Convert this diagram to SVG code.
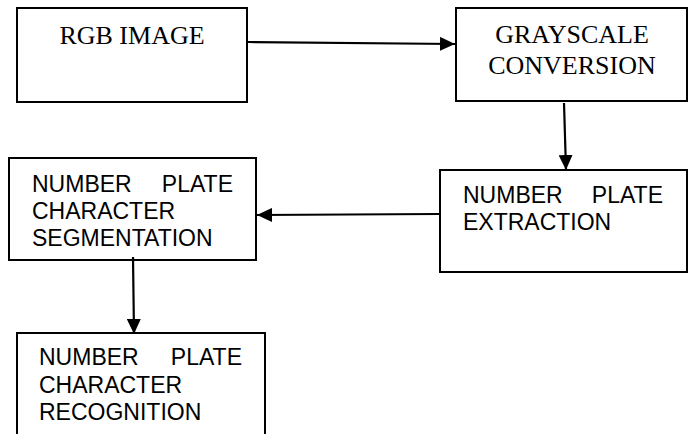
<svg xmlns="http://www.w3.org/2000/svg" width="692" height="434" viewBox="0 0 692 434">
<style>
.box{fill:#fff;stroke:#000;stroke-width:2}
.serif{font-family:"Liberation Serif","Times New Roman",serif;font-size:26px;fill:#000}
.sans{font-family:"Liberation Sans",Arial,sans-serif;font-size:23px;fill:#000}
.conn{stroke:#000;stroke-width:2.2;fill:none}
</style>
<defs>
<marker id="ah" markerUnits="userSpaceOnUse" markerWidth="16" markerHeight="14" refX="15" refY="7" orient="auto">
<path d="M0,0 L15,7 L0,14 Z" fill="#000"/>
</marker>
</defs>
<rect width="692" height="434" fill="#fff"/>
<g id="rgb">
<rect class="box" x="17" y="8" width="230" height="94"/>
<text class="serif" x="132" y="44" text-anchor="middle">RGB IMAGE</text>
</g>
<g id="gray">
<rect class="box" x="456" y="8" width="231" height="93"/>
<text class="serif" x="572" y="43" text-anchor="middle">GRAYSCALE</text>
<text class="serif" x="572" y="74" text-anchor="middle">CONVERSION</text>
</g>
<g id="extract">
<rect class="box" x="440" y="170" width="247" height="102"/>
<text class="sans" x="463" y="203">NUMBER</text>
<text class="sans" x="663" y="203" text-anchor="end">PLATE</text>
<text class="sans" x="463" y="230">EXTRACTION</text>
</g>
<g id="segment">
<rect class="box" x="9" y="158" width="247" height="102"/>
<text class="sans" x="32" y="192">NUMBER</text>
<text class="sans" x="233" y="192" text-anchor="end">PLATE</text>
<text class="sans" x="32" y="219">CHARACTER</text>
<text class="sans" x="32" y="246">SEGMENTATION</text>
</g>
<g id="recognize">
<path class="box" d="M17,436 L17,333 L265,333 L265,436"/>
<text class="sans" x="39" y="365">NUMBER</text>
<text class="sans" x="242" y="365" text-anchor="end">PLATE</text>
<text class="sans" x="39" y="393">CHARACTER</text>
<text class="sans" x="39" y="420">RECOGNITION</text>
</g>
<g id="connectors">
<line class="conn" x1="248" y1="42" x2="455" y2="44" marker-end="url(#ah)"/>
<line class="conn" x1="564" y1="103" x2="566" y2="170" marker-end="url(#ah)"/>
<line class="conn" x1="439" y1="214" x2="257" y2="215" marker-end="url(#ah)"/>
<line class="conn" x1="133" y1="257" x2="134" y2="334" marker-end="url(#ah)"/>
</g>
</svg>
